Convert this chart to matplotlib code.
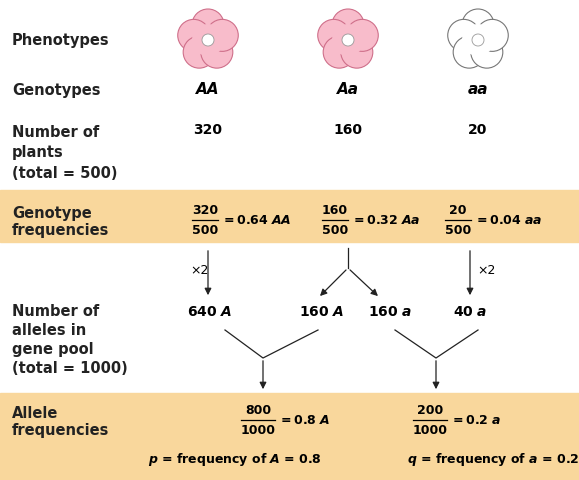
import numpy as np
import matplotlib.pyplot as plt
from matplotlib.patches import Circle, Rectangle

genotypes = ["AA", "Aa", "aa"]
plants = [320, 160, 20]
geno_freq = ["0.64", "0.32", "0.04"]
alleles = [("640", "A"), ("160", "A"), ("160", "a"), ("40", "a")]
allele_freq = [("800", "1000", "0.8", "A"), ("200", "1000", "0.2", "a")]

plt.rcParams["mathtext.fontset"] = "dejavusans"

fig = plt.figure(figsize=(5.79, 4.80), dpi=100)
ax = fig.add_axes([0, 0, 1, 1])
ax.set_xlim(0, 579)
ax.set_ylim(480, 0)
ax.axis("off")

band = "#f9d79c"
ax.add_patch(Rectangle((0, 190), 579, 52, color=band, zorder=0))
ax.add_patch(Rectangle((0, 393), 579, 87, color=band, zorder=0))

kw = dict(fontsize=10.5, fontweight="bold", color="#222222", va="center")
ax.text(12, 40, "Phenotypes", **kw)
ax.text(12, 90, "Genotypes", **kw)
ax.text(12, 153, "Number of\nplants\n(total = 500)", linespacing=1.45, **kw)
ax.text(12, 222, "Genotype\nfrequencies", linespacing=1.15, **kw)
ax.text(12, 340, "Number of\nalleles in\ngene pool\n(total = 1000)", linespacing=1.35, **kw)
ax.text(12, 422, "Allele\nfrequencies", linespacing=1.15, **kw)

def flower(cx, cy, face, edge):
    for k in range(5):
        a = np.pi / 2 + k * 2 * np.pi / 5
        ax.add_patch(Circle((cx + 15 * np.cos(a), cy - 15 * np.sin(a)), 16,
                            fc=face, ec=edge, lw=0.8, zorder=2))
    ax.add_patch(Circle((cx, cy), 16, fc=face, ec="none", zorder=3))
    ax.add_patch(Circle((cx, cy), 6, fc="white", ec="#999999", lw=0.6, zorder=4))

xs = [208, 348, 478]
flower(xs[0], 40, "#f8bccb", "#cf6f8a")
flower(xs[1], 40, "#f8bccb", "#cf6f8a")
flower(xs[2], 40, "white", "#777777")

for x, g, n in zip(xs, genotypes, plants):
    ax.text(x, 90, g, ha="center", fontsize=11, fontweight="bold", style="italic", va="center")
    ax.text(x, 130, str(n), ha="center", fontsize=10, fontweight="bold", va="center")

fk = dict(fontsize=9, fontweight="bold", va="center", ha="center")
fxs = [205, 335, 458]
for x, n, f, g in zip(fxs, plants, geno_freq, genotypes):
    ax.text(x, 211, str(n), **fk)
    ax.text(x, 230, "500", **fk)
    ax.plot([x - 13, x + 13], [220, 220], color="k", lw=0.9)
    ax.text(x + 16, 220, r"$\mathbf{= %s}\ \boldsymbol{%s}$" % (f, g),
            fontsize=9, va="center")

ak = dict(arrowstyle="-|>", color="#222222", lw=0.9, mutation_scale=10)
ax.annotate("", (208, 298), (208, 248), arrowprops=ak)
ax.annotate("", (470, 298), (470, 248), arrowprops=ak)
ax.text(190, 270, "\u00d72", fontsize=9, va="center")
ax.text(477, 270, "\u00d72", fontsize=9, va="center")
ax.plot([348, 348], [248, 268], color="#222222", lw=0.9)
ax.annotate("", (318, 298), (348, 268), arrowprops=ak)
ax.annotate("", (380, 298), (348, 268), arrowprops=ak)

axs = [210, 322, 390, 470]
for x, (n, l) in zip(axs, alleles):
    ax.text(x, 312, r"$\mathbf{%s}\ \boldsymbol{%s}$" % (n, l), fontsize=10,
            va="center", ha="center")

for (l, r, m) in [(225, 318, 263), (395, 478, 436)]:
    ax.plot([l, m, r], [330, 358, 330], color="#222222", lw=0.9)
    ax.annotate("", (m, 392), (m, 358), arrowprops=ak)

for x, (n, d, v, l) in zip([258, 430], allele_freq):
    ax.text(x, 410, n, **fk)
    ax.text(x, 430, d, **fk)
    ax.plot([x - 17, x + 17], [420, 420], color="k", lw=0.9)
    ax.text(x + 20, 420, r"$\mathbf{= %s}\ \boldsymbol{%s}$" % (v, l),
            fontsize=9, va="center")

ax.text(148, 460, r"$\boldsymbol{p}$ = frequency of $\boldsymbol{A}$ = 0.8",
        fontsize=9, fontweight="bold", va="center")
ax.text(407, 460, r"$\boldsymbol{q}$ = frequency of $\boldsymbol{a}$ = 0.2",
        fontsize=9, fontweight="bold", va="center")

fig.savefig("out.png", dpi=100)
